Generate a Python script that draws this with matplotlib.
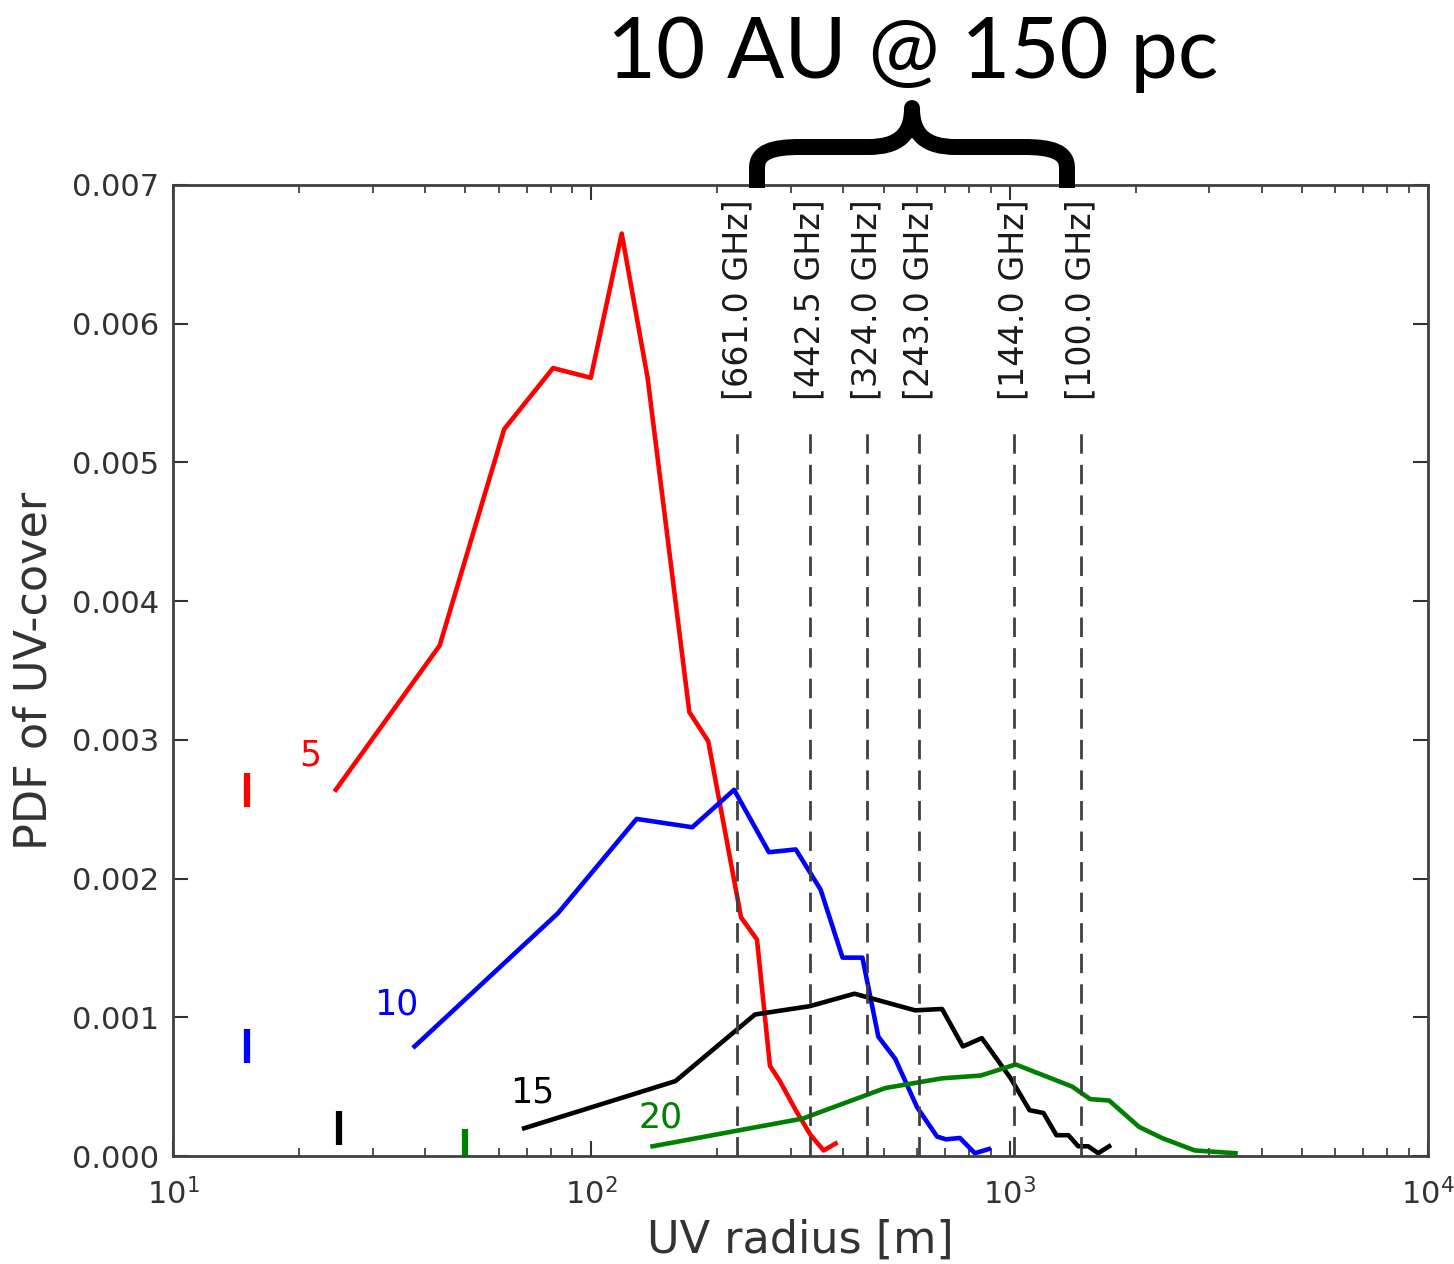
import numpy as np
import matplotlib.pyplot as plt
from matplotlib.path import Path
from matplotlib.patches import PathPatch

# ======================================================================================================================
# data: UV radius [m] and PDF of UV-cover for each configuration
r_5 = [24.5, 43.4, 61.9, 81.0, 99.7, 118.2, 136.3, 171.5, 190.3, 228.0, 248.9, 267.3, 282.3, 308.1, 334.5, 359.2, 383.6]
pdf_5 = [0.00264, 0.00368, 0.00524, 0.00568, 0.00561, 0.00665, 0.00561, 0.00320, 0.00299, 0.00172, 0.00156,
         0.00065, 0.00054, 0.00033, 0.00015, 0.00004, 0.00009]

r_10 = [37.8, 83.2, 128.3, 174.3, 219.4, 265.8, 308.1, 353.3, 398.6, 444.6, 485.4, 532.8, 601.0, 670.6, 704.6,
        760.4, 825.7, 891.5]
pdf_10 = [0.00079, 0.00175, 0.00243, 0.00237, 0.00264, 0.00219, 0.00221, 0.00192, 0.00143, 0.00143, 0.00086,
          0.00070, 0.00035, 0.00014, 0.00012, 0.00013, 0.00002, 0.00005]

r_15 = [69.1, 158.9, 246.1, 332.7, 425.6, 594.5, 689.3, 773.0, 857.8, 1005.6, 1115.9, 1204.6, 1293.5, 1381.4,
        1459.0, 1541.0, 1628.0, 1729.0]
pdf_15 = [0.00020, 0.00054, 0.00102, 0.00108, 0.00117, 0.00105, 0.00106, 0.00079, 0.00085, 0.00056, 0.00033,
          0.00031, 0.00015, 0.00015, 0.00007, 0.00007, 0.00002, 0.00007]

r_20 = [140.1, 320.2, 504.3, 689.3, 853.1, 1033.5, 1411.8, 1558.0, 1729.0, 2038.0, 2311.0, 2769.0, 3466.0]
pdf_20 = [0.00007, 0.00027, 0.00049, 0.00056, 0.00058, 0.00066, 0.00050, 0.00041, 0.00040, 0.00021, 0.00013,
          0.00004, 0.00002]

curve_names = ['5', '10', '15', '20']
curve_colors = ['red', 'blue', 'black', 'green']
# small bars on the left and position of the curve labels
bar_x = [15, 15, 25, 50]
label_xy = [(21.3, 0.00289), (34.1, 0.00109), (72.2, 0.00046), (146.4, 0.00028)]

# observing frequencies [GHz] marked with dashed lines
freqs = [661.0, 442.5, 324.0, 243.0, 144.0, 100.0]
theta = 10.0 / 150.0 / 3600.0 * np.pi / 180.0   # 10 AU @ 150 pc, in rad
radii = [3e8 / (f * 1e9) / theta / (2 * np.pi) for f in freqs]

# ======================================================================================================================
W, H = 1454, 1264
fig = plt.figure(figsize=(W / 100, H / 100), dpi=100)
ax = fig.add_axes([173 / W, 1 - 1156 / H, (1428 - 173) / W, (1156 - 185) / H])

rs = [r_5, r_10, r_15, r_20]
pdfs = [pdf_5, pdf_10, pdf_15, pdf_20]
for i in range(len(rs)):
    ax.plot(rs[i], pdfs[i], color=curve_colors[i], lw=3.3)
    ax.plot([bar_x[i]], [pdfs[i][0]], marker='|', color=curve_colors[i], ms=25, mew=4.5, ls='none')
    ax.text(label_xy[i][0], label_xy[i][1], curve_names[i], color=curve_colors[i], fontsize=25,
            ha='center', va='center')

for f, r in zip(freqs, radii):
    ax.axvline(r, ymax=0.75, color='0.25', ls=(0, (7, 4)), lw=2)
    ax.text(r, 0.00545, '[%.1f GHz]' % f, rotation=90, ha='center', va='bottom', fontsize=24, color='0.1')

ax.set_xscale('log')
ax.set_xlim(10, 1e4)
ax.set_ylim(0, 0.007)
ax.set_yticks(np.arange(0, 0.0071, 0.001))
ax.set_yticklabels(['%.3f' % v for v in np.arange(0, 0.0071, 0.001)])
ax.tick_params(which='both', direction='in', top=True, right=True, labelsize=22, colors='0.2')
ax.tick_params(which='major', length=11, width=1.5, pad=10)
ax.tick_params(which='minor', length=6, width=1.2)
ax.tick_params(axis='x', pad=16)
for s in ax.spines.values():
    s.set_linewidth(2)
    s.set_color('0.25')

ax.set_xlabel('UV radius [m]', fontsize=32, color='0.2', labelpad=6)
ax.set_ylabel('PDF of UV-cover', fontsize=32, color='0.2', labelpad=12)

# big annotation on top
fig.text(607 / W, 1 - 78 / H, '10 AU @ 150 pc', family='Lato', fontsize=61, ha='left', va='baseline')

# curly brace over the frequency labels
def fp(x, y):
    return (x / W, 1 - y / H)

verts = [fp(757, 188), fp(757, 168), fp(757, 152), fp(772, 147), fp(800, 147), fp(868, 147),
         fp(898, 147), fp(912, 135), fp(912, 108),
         fp(912, 135), fp(926, 147), fp(956, 147), fp(1024, 147),
         fp(1052, 147), fp(1067, 152), fp(1067, 168), fp(1067, 188)]
codes = [Path.MOVETO, Path.LINETO, Path.CURVE4, Path.CURVE4, Path.CURVE4, Path.LINETO,
         Path.CURVE4, Path.CURVE4, Path.CURVE4,
         Path.CURVE4, Path.CURVE4, Path.CURVE4, Path.LINETO,
         Path.CURVE4, Path.CURVE4, Path.CURVE4, Path.LINETO]
brace = PathPatch(Path(verts, codes), transform=fig.transFigure, fill=False, lw=11.5, color='black',
                  capstyle='butt', joinstyle='round')
fig.patches.append(brace)

fig.savefig('out.png', dpi=100)
